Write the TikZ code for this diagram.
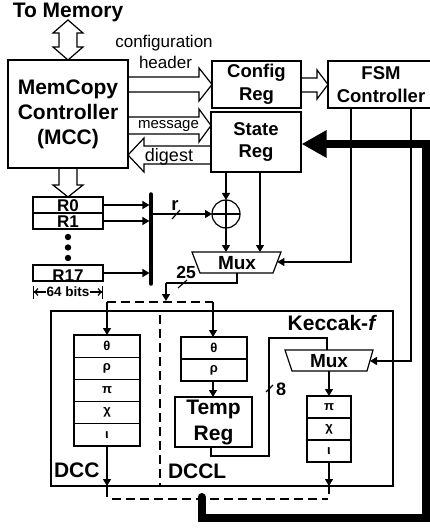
\documentclass[tikz,border=0pt]{standalone}
\usepackage{fontspec}
\setmainfont{Liberation Sans}
\usetikzlibrary{arrows.meta,calc}
\begin{document}
\begin{tikzpicture}[x=1pt,y=-1pt,
  every node/.style={inner sep=0pt, outer sep=0pt},
  lw/.style={line width=1.2pt},
  box/.style={draw, line width=1.2pt, align=center},
  arr/.style={line width=1.2pt, -{Triangle[length=7pt,width=8pt]}},
  hol/.style={line width=1.2pt, line join=miter},
  bfa/.style={font=\fontsize{21}{25}\selectfont\bfseries, align=center},
  bfb/.style={font=\fontsize{18.5}{22.5}\selectfont\bfseries, align=center},
  bfr/.style={font=\fontsize{17}{17}\selectfont\bfseries},
  bfm/.style={font=\fontsize{19}{20}\selectfont\bfseries},
  gk/.style={font=\fontsize{13}{13}\selectfont\bfseries},
  rg/.style={font=\fontsize{17}{18}\selectfont},
  dsh/.style={line width=1.2pt, dash pattern=on 9pt off 5pt},
  thick8/.style={line width=8pt}
]
\useasboundingbox (0,0) rectangle (430,529);

% top label and memory arrow
\node[bfa, anchor=base] (tomem) at (68,17.5) {To Memory};
\node[box,bfa,minimum width=120pt,minimum height=108pt] (mcc) at (68,114) {MemCopy\\Controller\\(MCC)};
\draw[hol] (68,20) -- (83,33) -- (77,33) -- (77,47) -- (83,47) -- (68,60) -- (53,47) -- (59,47) -- (59,33) -- (53,33) -- cycle;

% registers
\node[box,bfb,minimum width=89pt,minimum height=47pt] (cfg) at (256.5,84.5) {Config\\Reg};
\node[box,bfb,minimum width=90pt,minimum height=60pt] (st) at (256,142) {State\\Reg};
\node[box,bfb,minimum width=106pt,minimum height=47pt] (fsm) at (381,84.5) {FSM\\Controller};

% hollow arrows
\draw[hol] (128,77) -- (199,77) -- (199,68) -- (212,84.5) -- (199,101) -- (199,92) -- (128,92);
\draw[hol] (128,117) -- (199,117) -- (199,109) -- (211,125.5) -- (199,142) -- (199,134) -- (128,134);
\draw[hol] (211,146) -- (144,146) -- (144,138) -- (128,155) -- (144,172) -- (144,164) -- (211,164);
\draw[hol] (301,78) -- (317,78) -- (317,70) -- (328,84.5) -- (317,99) -- (317,92) -- (301,92);
\draw[hol] (59,168) -- (59,185) -- (53,185) -- (68,197) -- (83,185) -- (77,185) -- (77,168);

\node[rg, anchor=base] (lconf) at (164,48) {configuration};
\node[rg, anchor=base] (lhead) at (165.5,69) {header};
\node[font=\fontsize{15}{16}\selectfont, anchor=base] (lmsg) at (168.5,128.5) {message};
\node[font=\fontsize{18}{19}\selectfont, anchor=base] (ldig) at (169,161.5) {digest};

% R registers
\node[box,minimum width=70pt,minimum height=16pt] (r0) at (68,205) {};
\node[box,minimum width=70pt,minimum height=16pt] (r1) at (68,221) {};
\node[box,minimum width=70pt,minimum height=16pt] (r17) at (68,273) {};
\node[bfr, anchor=base] at ($(r0.south)+(0,-1.2)$) {R0};
\node[bfr, anchor=base] at ($(r1.south)+(0,-1.2)$) {R1};
\node[bfr, anchor=base] at ($(r17.south)+(0,0.5)$) {R17};
\fill (68,237) circle (3.2pt) (68,247.5) circle (3.2pt) (68,258) circle (3.2pt);
\draw[lw, {Bar[width=13pt]Straight Barb[length=3pt,width=7pt]}-{Straight Barb[length=3pt,width=7pt]Bar[width=13pt]}] (33,292) -- (103,292);
\node[font=\fontsize{13.5}{14}\selectfont\bfseries, fill=white, inner xsep=1pt, inner ysep=1pt] (bits) at (68,292) {64 bits};

% bus
\coordinate (bt) at (151,194);
\coordinate (bb) at (151,284);
\draw[line width=3.5pt, line cap=round] (bt) -- (bb);
\draw[arr, shorten >=1.6pt] (r0.east) -- (r0.east -| bt);
\draw[arr, shorten >=1.6pt] (r1.east) -- (r1.east -| bt);
\draw[arr, shorten >=1.6pt] (r17.east) -- (r17.east -| bt);

% xor
\node[draw, lw, circle, minimum size=28pt] (xor) at (226,214) {};
\draw[lw] (xor.north) -- (xor.south) (xor.west) -- (xor.east);
\coordinate (bx) at (151,214);
\draw[arr] (bx) -- (xor.west);
\node[bfb, anchor=base] (lr) at (175,210) {r};
\draw[lw] (172,219) -- (180,210);

% top mux
\draw[lw] (192,252) -- (281,252) -- (273,273) -- (200,273) -- cycle;
\node[bfm] (mux1) at (237,263) {Mux};
\draw[arr] (st.south -| xor) -- (xor.north);
\draw[arr] (260,172) -- (260,252);
\draw[arr] (xor.south) -- (226,252);
\draw[arr] (fsm.south -| 351,0) -- (351,262) -- (277.3,262);
\draw[lw] (237,273) -- (237,283) -- (166,283);
\draw[arr] (166,283) -- (166,301);
\node[font=\fontsize{17.5}{18}\selectfont\bfseries, anchor=base] (l25) at (186,278) {25};
\draw[lw] (178,288) -- (187,280);

% Keccak box
\node[draw, lw, minimum width=342pt, minimum height=175pt] (kec) at (222,398.5) {};
\node[bfa, anchor=base east] (lkec) at (377,330) {Keccak-\textit{f}};
\draw[dsh, dash phase=-4pt] (160,311) -- (160,486);
\draw[dsh] (107,302) -- (213,302);
\draw[dsh] (112,499) -- (328,499);

% DCC stack
\node[box,gk,minimum width=66pt,minimum height=22.2pt] (d1) at (107,346.1) {θ};
\node[box,gk,minimum width=66pt,minimum height=22.2pt] (d2) at (107,368.3) {ρ};
\node[box,gk,minimum width=66pt,minimum height=22.2pt] (d3) at (107,390.5) {π};
\node[box,gk,minimum width=66pt,minimum height=22.2pt] (d4) at (107,412.7) {χ};
\node[box,gk,minimum width=66pt,minimum height=22.2pt] (d5) at (107,434.9) {ι};
\draw[arr] (107,302) -- (d1.north);
\draw[lw] (d5.south) -- (107,497);
\draw[arr] (d5.south) -- (107,486);
\node[bfa, anchor=base west] (ldcc) at (54,477) {DCC};

% DCCL stack
\node[box,gk,minimum width=66pt,minimum height=22pt] (l1) at (214,348) {θ};
\node[box,gk,minimum width=66pt,minimum height=22pt] (l2) at (214,370) {ρ};
\draw[arr] (213,302) -- (213,337);
\node[box,font=\fontsize{21}{26}\selectfont\bfseries,minimum width=77pt,minimum height=50pt] (tmp) at (213.5,422) {Temp\\Reg};
\draw[arr] (213,381) -- (213,397);
\node[bfa, anchor=base west] (ldccl) at (168,478) {DCCL};

% inner mux
\draw[lw] (285,350) -- (373,350) -- (367,371) -- (292,371) -- cycle;
\node[bfm] (mux2) at (329,361) {Mux};
\draw[lw] (211,447) -- (211,456) -- (269,456) -- (269,338) -- (327,338) -- (327,350);
\node[font=\fontsize{18}{19}\selectfont\bfseries, anchor=base] (l8) at (281,395) {8};
\draw[lw] (266,392) -- (273,385);
\draw[arr] (fsm.south -| 411,0) -- (411,361) -- (370,361);
\draw[arr] (329,371) -- (329,396);

% pi chi iota stack
\node[box,gk,minimum width=44pt,minimum height=22pt] (p1) at (329,407) {π};
\node[box,gk,minimum width=44pt,minimum height=22pt] (p2) at (329,429) {χ};
\node[box,gk,minimum width=44pt,minimum height=22pt] (p3) at (329,451) {ι};
\draw[lw] (p3.south) -- (329,494);
\draw[arr] (p3.south) -- (329,486);

% thick feedback
\draw[thick8, line cap=round, -{Triangle[length=25pt,width=26pt]}] (201.5,497) -- (201.5,518) -- (426,518) -- (426,144) -- (301.6,144);
\end{tikzpicture}
\end{document}
